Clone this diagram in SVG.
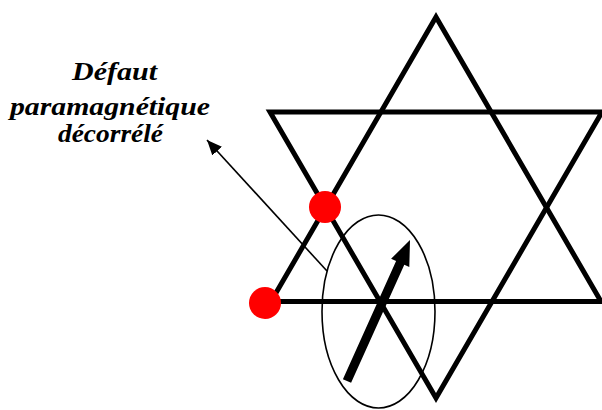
<svg xmlns="http://www.w3.org/2000/svg" width="602" height="410" viewBox="0 0 602 410">
  <style>
    .tri { fill: none; stroke: #000; stroke-width: 5; stroke-linejoin: miter; stroke-miterlimit: 10; }
    .dot { fill: #ff0000; }
    .thin { fill: none; stroke: #000; stroke-width: 1.6; }
    .lbl { font-family: "Liberation Serif", "Times New Roman", serif; font-weight: bold; font-style: italic; font-size: 26px; fill: #000; }
  </style>
  <defs>
    <marker id="ah" markerUnits="userSpaceOnUse" markerWidth="16" markerHeight="14" refX="15" refY="6.5" orient="auto">
      <path d="M0,0 L15,6.5 L0,13 Z" fill="#000"/>
    </marker>
  </defs>
  <rect width="602" height="410" fill="#fff"/>
  <g id="star">
    <polygon class="tri" points="436,17 601,301.5 271,301.5"/>
    <polygon class="tri" points="270,112 602,112 436,398"/>
  </g>
  <g id="ellipse">
    <ellipse class="thin" cx="378.5" cy="311.5" rx="56.5" ry="96.5"/>
  </g>
  <g id="spin">
    <polygon fill="#000" points="342.9,379.2 396.1,261.1 391.1,258.8 410,240 409.3,267 404.3,264.7 351.1,382.8"/>
  </g>
  <g id="defects">
    <circle class="dot" cx="325" cy="207" r="16"/>
    <circle class="dot" cx="265" cy="303" r="16"/>
  </g>
  <g id="connectors">
    <line class="thin" x1="327" y1="271" x2="207" y2="140" marker-end="url(#ah)"/>
  </g>
  <g id="label">
    <text class="lbl" x="72" y="80" textLength="85" lengthAdjust="spacingAndGlyphs">Défaut</text>
    <text class="lbl" x="10" y="115" textLength="200" lengthAdjust="spacingAndGlyphs">paramagnétique</text>
    <text class="lbl" x="58" y="142" textLength="105" lengthAdjust="spacingAndGlyphs">décorrélé</text>
  </g>
</svg>
